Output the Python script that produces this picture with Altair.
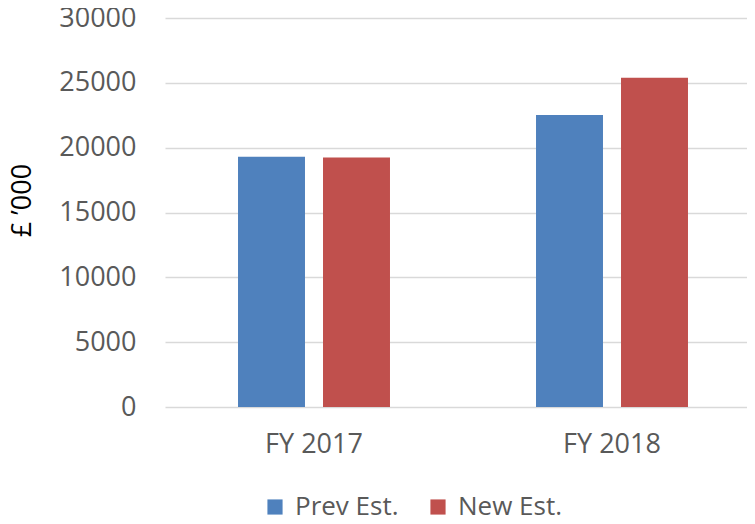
import altair as alt
import pandas as pd

years = ["FY 2017", "FY 2017", "FY 2018", "FY 2018"]
series = ["Prev Est.", "New Est.", "Prev Est.", "New Est."]
values = [19290, 19240, 22510, 25400]

df = pd.DataFrame({"year": years, "series": series, "value": values})

FONT = "Open Sans"

chart = alt.Chart(df).mark_bar().encode(
    x=alt.X("year:N", title=None,
            scale=alt.Scale(paddingInner=0, paddingOuter=0, range=[0, 596]),
            axis=alt.Axis(labelAngle=0, labelFontSize=27, labelColor="#595959",
                          labelFont=FONT, domain=False, ticks=False, labelPadding=24)),
    xOffset=alt.XOffset("series:N", sort=["Prev Est.", "New Est."],
                        scale=alt.Scale(paddingInner=0.212, paddingOuter=0.859)),
    y=alt.Y("value:Q", title="£ ’000",
            scale=alt.Scale(domain=[0, 30000], nice=False),
            axis=alt.Axis(values=[0, 5000, 10000, 15000, 20000, 25000, 30000],
                          format="d",
                          labelFontSize=27, labelColor="#595959", labelFont=FONT,
                          domain=False, ticks=False, labelPadding=29,
                          gridColor="#d9d9d9", gridWidth=1.5,
                          titleFont=FONT, titleFontSize=27, titleFontWeight="normal",
                          titleColor="#000000", titleX=-129, titleY=182)),
    color=alt.Color("series:N", sort=["Prev Est.", "New Est."],
                    scale=alt.Scale(domain=["Prev Est.", "New Est."],
                                    range=["#4f81bd", "#c0504d"]),
                    legend=alt.Legend(title=None, orient="none", direction="horizontal",
                                      legendX=97, legendY=476,
                                      symbolType="square", symbolSize=230,
                                      symbolStrokeWidth=0, labelFontSize=26,
                                      labelFont=FONT, labelColor="#595959",
                                      columnPadding=26, labelOffset=7)),
).properties(
    width=580, height=389,
    autosize=alt.AutoSizeParams(type="none"),
    padding={"left": 157, "top": 10, "right": 2, "bottom": 114},
).configure_view(stroke=None)

chart.save("out.html", embed_options={"renderer": "svg", "actions": False})
